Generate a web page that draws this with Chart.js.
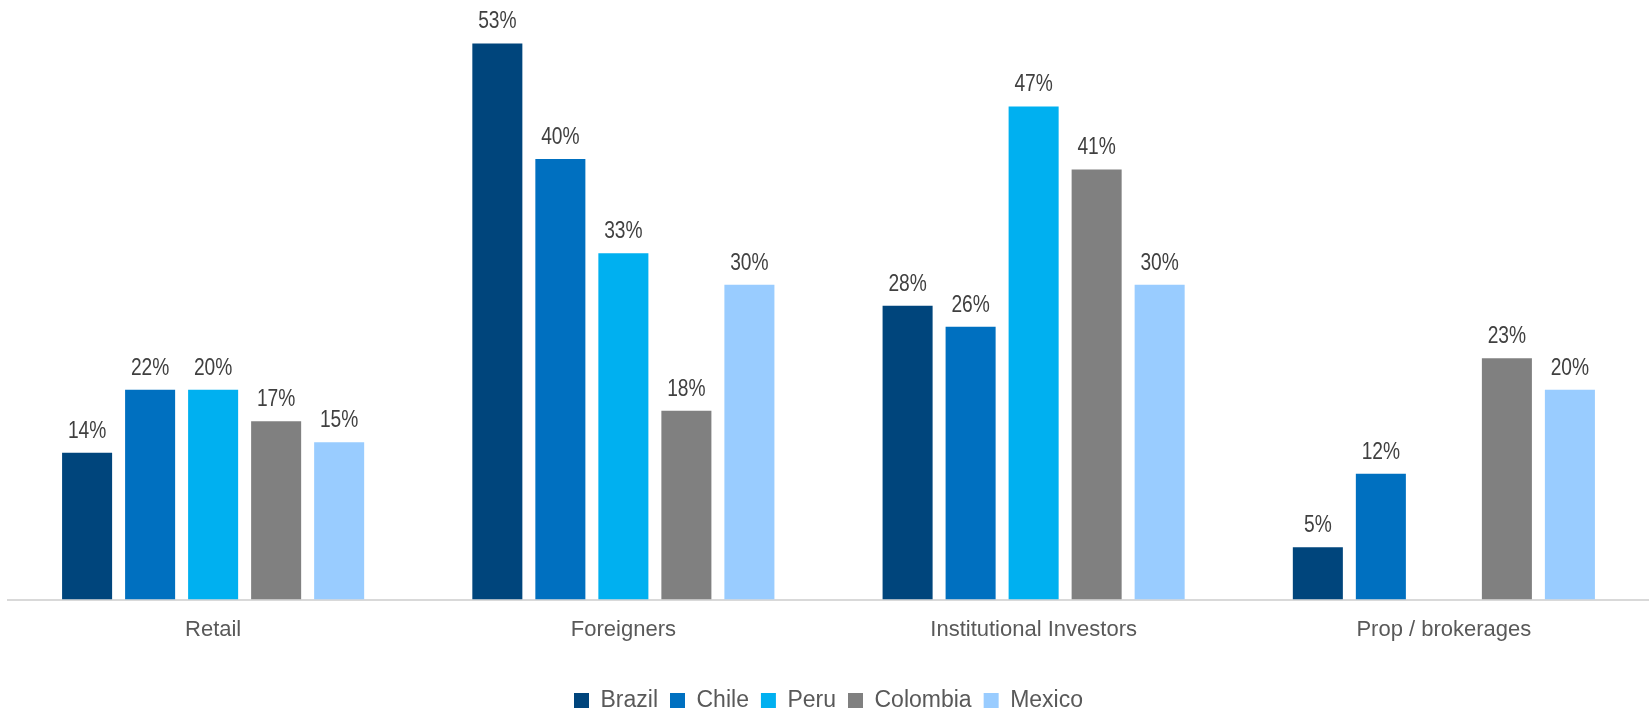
<!DOCTYPE html>
<html>
<head>
<meta charset="utf-8">
<script src="https://cdn.jsdelivr.net/npm/chart.js@4.4.1/dist/chart.umd.min.js"></script>
<style>
    html, body { margin: 0; padding: 0; background: #ffffff; overflow: hidden; }
    #wrap { width: 1649px; height: 722px; position: relative; }
</style>
</head>
<body>
<div id="wrap"><canvas id="investorChart"></canvas></div>
<script>
// Categories along the x axis
const categories = ['Retail', 'Foreigners', 'Institutional Investors', 'Prop / brokerages'];

// Bar heights (%)
const brazil   = [14, 53, 28, 5];
const chile    = [20, 42, 26, 12];
const peru     = [20, 33, 47, null];
const colombia = [17, 18, 41, 23];
const mexico   = [15, 30, 30, 20];

// Printed labels above the bars (the source prints 22% / 40% for Chile)
const brazilLabels   = ['14%', '53%', '28%', '5%'];
const chileLabels    = ['22%', '40%', '26%', '12%'];
const peruLabels     = ['20%', '33%', '47%', ''];
const colombiaLabels = ['17%', '18%', '41%', '23%'];
const mexicoLabels   = ['15%', '30%', '30%', '20%'];

const FONT = "'Liberation Sans', Arial, sans-serif";

function makeDataset(name, values, labels, color) {
    return {
        label: name,
        data: values,
        valueLabels: labels,
        backgroundColor: color,
        borderWidth: 0,
        categoryPercentage: 0.768,
        barPercentage: 0.794
    };
}

// Draw the value labels above each bar (squeezed a bit, the source uses a narrow font)
const valueLabelPlugin = {
    id: 'valueLabels',
    afterDatasetsDraw(chart) {
        const ctx = chart.ctx;
        ctx.save();
        ctx.font = '24px ' + FONT;
        ctx.fillStyle = '#404040';
        ctx.textAlign = 'center';
        ctx.textBaseline = 'alphabetic';
        chart.data.datasets.forEach((ds, i) => {
            const meta = chart.getDatasetMeta(i);
            if (meta.hidden) return;
            meta.data.forEach((bar, j) => {
                if (ds.data[j] === null || !ds.valueLabels[j]) return;
                ctx.save();
                ctx.translate(bar.x, bar.y - 15);
                ctx.scale(0.8, 1);
                ctx.fillText(ds.valueLabels[j], 0, 0);
                ctx.restore();
            });
        });
        ctx.restore();
    }
};

const canvas = document.getElementById('investorChart');
const ctx = canvas.getContext('2d');

new Chart(ctx, {
    type: 'bar',
    data: {
        labels: categories,
        datasets: [
            makeDataset('Brazil', brazil, brazilLabels, '#00457C'),
            makeDataset('Chile', chile, chileLabels, '#0070C0'),
            makeDataset('Peru', peru, peruLabels, '#00B0F0'),
            makeDataset('Colombia', colombia, colombiaLabels, '#808080'),
            makeDataset('Mexico', mexico, mexicoLabels, '#99CCFF')
        ]
    },
    options: {
        responsive: true,
        maintainAspectRatio: false,
        animation: false,
        layout: {
            padding: { top: 12, left: 8, right: 0, bottom: 0 }
        },
        scales: {
            x: {
                grid: { display: false },
                border: { display: true, color: '#d9d9d9', width: 2 },
                ticks: {
                    color: '#595959',
                    padding: 9,
                    font: { family: FONT, size: 22 }
                },
                // empty title, only used as spacer between tick labels and legend
                title: {
                    display: true,
                    text: '',
                    font: { size: 10 },
                    padding: { top: 0, bottom: 13 }
                }
            },
            y: {
                display: false,
                min: 0,
                max: 56
            }
        },
        plugins: {
            legend: {
                position: 'bottom',
                labels: {
                    color: '#595959',
                    boxWidth: 15,
                    boxHeight: 15,
                    padding: 12,
                    font: { family: FONT, size: 23 }
                }
            },
            tooltip: { enabled: false }
        }
    },
    plugins: [valueLabelPlugin]
});
</script>
</body>
</html>
